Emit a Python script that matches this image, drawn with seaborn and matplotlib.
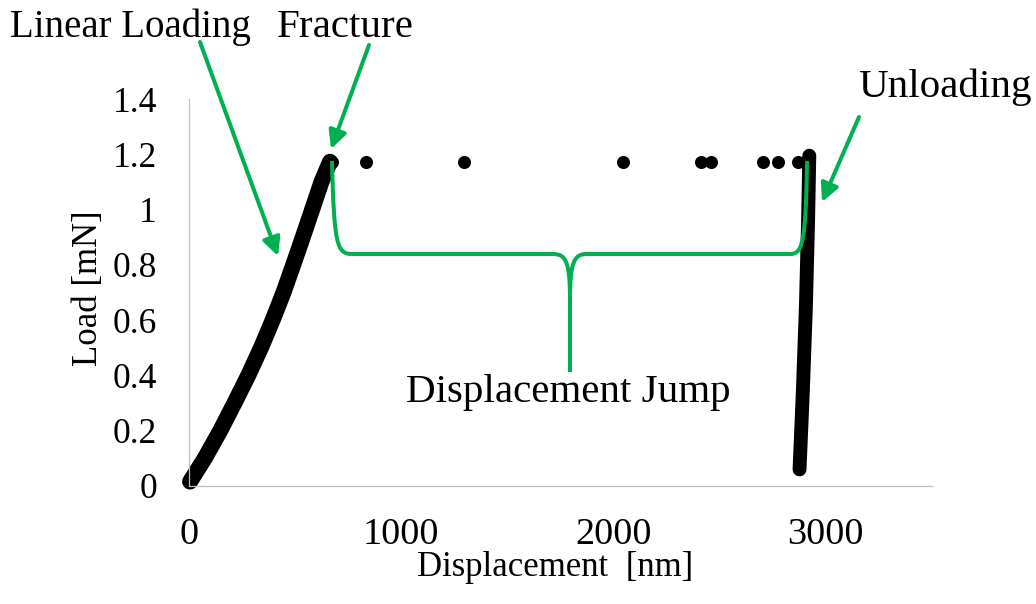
import matplotlib
matplotlib.use("Agg")
import matplotlib.pyplot as plt
import seaborn as sns
import pandas as pd
from matplotlib.path import Path
from matplotlib.patches import PathPatch

# ---- data ----
loading_disp = [5, 74, 147, 214, 279, 339, 394, 445, 491, 536, 580, 624, 664]
loading_load = [0.016, 0.10, 0.20, 0.30, 0.40, 0.50, 0.60, 0.70, 0.80,
                0.90, 1.00, 1.10, 1.173]

jump_disp = [672, 834, 1295, 2046, 2410, 2459, 2705, 2773, 2870]
jump_load = [1.173, 1.173, 1.173, 1.173, 1.173, 1.173, 1.173, 1.173, 1.173]

unloading_disp = [2922, 2916, 2906, 2892, 2876]
unloading_load = [1.195, 0.95, 0.65, 0.35, 0.06]

x_ticks = [0, 1000, 2000, 3000]
x_tick_labels = ["0", "1000", "2000", "3000"]
y_ticks = [0, 0.2, 0.4, 0.6, 0.8, 1.0, 1.2, 1.4]
y_tick_labels = ["0", "0.2", "0.4", "0.6", "0.8", "1", "1.2", "1.4"]

GREEN = "#00b050"
AXCOL = "#bfbfbf"
W, H = 1036, 604

sns.set_style("white")
plt.rcParams["font.family"] = ["Liberation Serif", "DejaVu Serif"]

fig = plt.figure(figsize=(W / 100, H / 100), dpi=100)
ax = fig.add_axes([189 / W, 1 - 486 / H, (932 - 189) / W, (486 - 99) / H])

load_df = pd.DataFrame({"disp": loading_disp, "load": loading_load})
unload_df = pd.DataFrame({"disp": unloading_disp, "load": unloading_load})
jump_df = pd.DataFrame({"disp": jump_disp, "load": jump_load})

dot_pt = 9.4
sns.lineplot(data=load_df, x="disp", y="load", ax=ax, color="black",
             linewidth=11.5, sort=False, estimator=None)
sns.lineplot(data=unload_df, x="disp", y="load", ax=ax, color="black",
             linewidth=10, sort=False, estimator=None)
for ln in ax.lines:
    ln.set_solid_capstyle("round")
    ln.set_solid_joinstyle("round")
    ln.set_clip_on(False)
sns.scatterplot(data=jump_df, x="disp", y="load", ax=ax, color="black",
                s=dot_pt ** 2, linewidth=0, zorder=3, clip_on=False)

ax.set_xlim(0, 3500)
ax.set_ylim(0, 1.4)
ax.set_xticks(x_ticks)
ax.set_xticklabels(x_tick_labels)
ax.set_yticks(y_ticks)
ax.set_yticklabels(y_tick_labels)
for s in ["top", "right"]:
    ax.spines[s].set_visible(False)
for s in ["left", "bottom"]:
    ax.spines[s].set_color(AXCOL)
    ax.spines[s].set_linewidth(0.9)
ax.tick_params(axis="both", direction="in", color=AXCOL, width=0.9,
               length=8.5, labelcolor="black")
ax.tick_params(axis="y", pad=23, labelsize=25.5)
ax.tick_params(axis="x", pad=23, labelsize=27.5)
ax.grid(False)

ax.set_xlabel("Displacement  [nm]", fontsize=25, color="black")
ax.xaxis.set_label_coords((555 - 189) / 743, (486 - 576) / 387)
ax.xaxis.label.set_va("baseline")
ax.set_ylabel("Load [mN]", fontsize=25, color="black")
ax.yaxis.set_label_coords((88 - 189) / 743, 0.51)
ax.yaxis.label.set_va("center")


def fp(x, y):
    return (x / W, 1 - y / H)


# annotation texts
for txt, (x, y), fs in [("Linear Loading", (10, 37), 28),
                        ("Fracture", (277, 37), 29.5),
                        ("Unloading", (858, 97), 29.5),
                        ("Displacement Jump", (406, 402), 29.5)]:
    fig.text(*fp(x, y), txt, fontsize=fs, ha="left", va="baseline",
             color="black")

# arrows
for start, tip in [((200, 42), (278, 256)), ((369, 45), (331, 149)),
                   ((859, 117), (822, 202))]:
    ax.annotate("", xy=fp(*tip), xycoords="figure fraction",
                xytext=fp(*start), textcoords="figure fraction",
                arrowprops=dict(arrowstyle="-|>", color=GREEN, lw=2.9,
                                mutation_scale=27, shrinkA=0, shrinkB=0))

# brace
pts = [(332, 161), (334, 245), (337, 254), (352, 254),
       (553, 254),
       (566, 254), (570, 262), (570, 300),
       (570, 372),
       (570, 300),
       (570, 262), (574, 254), (587, 254),
       (790, 254),
       (802, 254), (806, 245), (807, 161)]
codes = [Path.MOVETO, Path.CURVE4, Path.CURVE4, Path.CURVE4,
         Path.LINETO,
         Path.CURVE4, Path.CURVE4, Path.CURVE4,
         Path.LINETO,
         Path.MOVETO,
         Path.CURVE4, Path.CURVE4, Path.CURVE4,
         Path.LINETO,
         Path.CURVE4, Path.CURVE4, Path.CURVE4]
verts = [fp(x, y) for x, y in pts]
patch = PathPatch(Path(verts, codes), facecolor="none", edgecolor=GREEN,
                  lw=2.9, transform=fig.transFigure, capstyle="butt",
                  joinstyle="round")
fig.patches.append(patch)

fig.savefig("out.png", dpi=100)
